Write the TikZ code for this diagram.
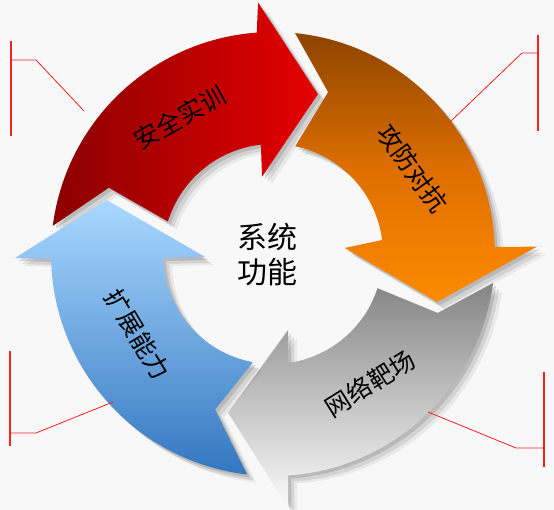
\documentclass[tikz,border=0pt]{standalone}
\usepackage{fontspec}
\newfontfamily\cjk{Noto Sans CJK SC}
\usepackage{tikz}
\usetikzlibrary{shadows}
\definecolor{bgpage}{HTML}{F8F8F8}
\definecolor{redL}{HTML}{8B0000}
\definecolor{redR}{HTML}{E60000}
\definecolor{orangeT}{HTML}{8C4400}
\definecolor{orangeM}{HTML}{DD6E00}
\definecolor{orangeB}{HTML}{FF8A00}
\definecolor{grayT}{HTML}{858585}
\definecolor{grayB}{HTML}{FBFBFB}
\definecolor{blueT}{HTML}{AAD8FF}
\definecolor{blueB}{HTML}{3377C0}
\definecolor{callred}{HTML}{FF1E1E}

\begin{document}
\begin{tikzpicture}[
  x=1pt,y=1pt,
  softshadow/.style={
    drop shadow={shadow xshift=3pt,shadow yshift=-3pt,opacity=.12,fill=black},
    drop shadow={shadow xshift=6pt,shadow yshift=-6pt,opacity=.09,fill=black},
    drop shadow={shadow xshift=9pt,shadow yshift=-8pt,opacity=.06,fill=black}},
  ringarrow/.style={softshadow},
  lbl/.style={font=\cjk\fontsize{25}{25}\selectfont,text=black,inner sep=0pt},
  hub/.style={font=\cjk\fontsize{30}{35}\selectfont,text=black,align=center,inner sep=0pt},
  callout/.style={draw=callred,line width=0.8pt},
  bar/.style={draw=callred,line width=1.3pt}
]
\fill[bgpage] (0,0) rectangle (554,510);
\useasboundingbox (0,0) rectangle (554,510);

\begin{scope}[shift={(273,256)}]
\path[ringarrow,left color=redL,right color=redR]
  (172.7:222) arc[start angle=172.7,end angle=94.2,radius=222]
  -- (93.4:252) -- (74.3:166) -- (98.1:78) -- (96.3:110)
  arc[start angle=96.3,end angle=162.8,radius=110]
  -- (158:177) -- cycle;
\path[ringarrow,top color=orangeT,bottom color=orangeB,middle color=orangeM]
  (84.3:222) arc[start angle=84.3,end angle=1.8,radius=222]
  -- (1.6:264) -- (-16.3:171) -- (4.8:72) -- (7.3:110)
  arc[start angle=7.3,end angle=78.3,radius=110]
  -- (71.2:171) -- cycle;
\path[ringarrow,top color=grayT,bottom color=grayB]
  (-7.5:222) arc[start angle=-7.5,end angle=-86.1,radius=222]
  -- (-86.6:254) -- (-105.8:165) -- (-78.8:77.5) -- (-82.1:110)
  arc[start angle=-82.1,end angle=-18.1,radius=110]
  -- (-19.7:175) -- cycle;
\path[ringarrow,top color=blueT,bottom color=blueB]
  (-96.7:222) arc[start angle=-96.7,end angle=-178.7,radius=222]
  -- (-179.1:258) -- (-198:175) -- (-177.5:68) -- (-177.9:110)
  arc[start angle=-177.9,end angle=-100.5,radius=110]
  -- (-110.4:166) -- cycle;
\end{scope}

\node[lbl,rotate=29] (train) at (180,392.5) {安全实训};
\node[lbl,rotate=-54] (attack) at (412.5,341.5) {攻防对抗};
\node[lbl,rotate=32] (range) at (370,126.5) {网络靶场};
\node[lbl,rotate=-59] (extend) at (137.5,175.5) {扩展能力};
\node[hub] (core) at (267,255.5) {系统\\功能};

\draw[bar] (11,469) -- (11,374);
\draw[callout] (11,450) -- (36,450) -- (84,399);
\draw[bar] (538,475) -- (538,379);
\draw[callout] (538,457) -- (522,457) -- (450,388);
\draw[bar] (10,159) -- (10,64);
\draw[callout] (10,77) -- (36,77) -- (113,108);
\draw[bar] (544,138) -- (544,43);
\draw[callout] (544,62) -- (516,62) -- (428,98);
\end{tikzpicture}
\end{document}
